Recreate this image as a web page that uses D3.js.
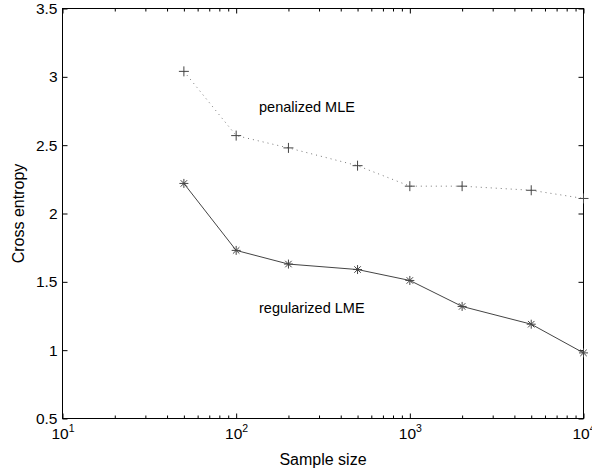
<!DOCTYPE html>
<html>
<head>
<meta charset="utf-8">
<script src="https://cdn.jsdelivr.net/npm/d3@7"></script>
<style>
  html, body { margin: 0; padding: 0; background: #fff; }
  svg { display: block; font-family: "Liberation Sans", Arial, Helvetica, sans-serif; }
</style>
</head>
<body>
<svg id="chart" width="592" height="472"></svg>
<script>
// ---- data ----
const sampleSizes = [50, 100, 200, 500, 1000, 2000, 5000, 10000];
const penalizedMLE = [3.04, 2.57, 2.48, 2.35, 2.20, 2.20, 2.17, 2.11];
const regularizedLME = [2.22, 1.73, 1.63, 1.59, 1.51, 1.32, 1.19, 0.98];
const yTicks = [0.5, 1, 1.5, 2, 2.5, 3, 3.5];
const xTicks = [10, 100, 1000, 10000];
const xTickExponents = ["1", "2", "3", "4"];
const seriesLabels = ["penalized MLE", "regularized LME"];
const xLabel = "Sample size";
const yLabel = "Cross entropy";

// ---- layout ----
const svg = d3.select("#chart");
const m = { left: 62.5, right: 583.5, top: 8.5, bottom: 418.5 };

const x = d3.scaleLog().domain([10, 10000]).range([m.left, m.right]);
const y = d3.scaleLinear().domain([0.5, 3.5]).range([m.bottom, m.top]);

const minorX = [];
for (let d = 10; d < 10000; d *= 10) for (let k = 2; k <= 9; k++) minorX.push(d * k);

const axisColor = "#000";

// box
svg.append("rect")
  .attr("x", m.left).attr("y", m.top)
  .attr("width", m.right - m.left).attr("height", m.bottom - m.top)
  .attr("fill", "none").attr("stroke", axisColor).attr("stroke-width", 1);

function styleAxis(g) {
  g.select(".domain").remove();
  g.selectAll(".tick line").attr("stroke", axisColor);
  g.selectAll(".tick text").attr("fill", "#000").attr("font-size", 15.5)
    .attr("font-family", "'Liberation Sans', Arial, sans-serif");
}

// bottom major
const gxb = svg.append("g").attr("transform", `translate(0,${m.bottom})`)
  .call(d3.axisBottom(x).tickValues(xTicks).tickSize(-5).tickPadding(6).tickFormat(() => ""));
styleAxis(gxb);
gxb.selectAll(".tick text").each(function(d, i) {
  const t = d3.select(this);
  t.text(null).attr("dy", null).attr("y", 20);
  t.append("tspan").text("10");
  t.append("tspan").text(xTickExponents[i]).attr("font-size", 10.5).attr("dy", -7);
});
// bottom minor
styleAxis(svg.append("g").attr("transform", `translate(0,${m.bottom})`)
  .call(d3.axisBottom(x).tickValues(minorX).tickSize(-3).tickFormat(() => "")));
// top major/minor
styleAxis(svg.append("g").attr("transform", `translate(0,${m.top})`)
  .call(d3.axisTop(x).tickValues(xTicks).tickSize(-5).tickFormat(() => "")));
styleAxis(svg.append("g").attr("transform", `translate(0,${m.top})`)
  .call(d3.axisTop(x).tickValues(minorX).tickSize(-3).tickFormat(() => "")));

// left
const gyl = svg.append("g").attr("transform", `translate(${m.left},0)`)
  .call(d3.axisLeft(y).tickValues(yTicks).tickSize(-5).tickPadding(5).tickFormat(d3.format("")));
styleAxis(gyl);
// right
styleAxis(svg.append("g").attr("transform", `translate(${m.right},0)`)
  .call(d3.axisRight(y).tickValues(yTicks).tickSize(-5).tickFormat(() => "")));

// axis labels
svg.append("text").attr("x", (m.left + m.right) / 2).attr("y", 465)
  .attr("text-anchor", "middle").attr("font-size", 16).text(xLabel);
svg.append("text").attr("transform", `translate(24,${(m.top + m.bottom) / 2}) rotate(-90)`)
  .attr("text-anchor", "middle").attr("font-size", 16).text(yLabel);

// lines
const line = d3.line().x((d, i) => x(sampleSizes[i])).y(d => y(d));

svg.append("path").datum(penalizedMLE).attr("d", line)
  .attr("fill", "none").attr("stroke", "#777").attr("stroke-width", 1)
  .attr("stroke-dasharray", "1,4");
svg.append("path").datum(regularizedLME).attr("d", line)
  .attr("fill", "none").attr("stroke", "#444").attr("stroke-width", 1);

// markers
const plusSym = { draw(ctx, size) { const r = Math.sqrt(size) / 2;
  ctx.moveTo(-r, 0); ctx.lineTo(r, 0); ctx.moveTo(0, -r); ctx.lineTo(0, r); } };
const starSym = { draw(ctx, size) { const r = Math.sqrt(size) / 2; const q = r * 0.72;
  ctx.moveTo(-r, 0); ctx.lineTo(r, 0); ctx.moveTo(0, -r); ctx.lineTo(0, r);
  ctx.moveTo(-q, -q); ctx.lineTo(q, q); ctx.moveTo(-q, q); ctx.lineTo(q, -q); } };

svg.append("g").selectAll("path").data(penalizedMLE).join("path")
  .attr("transform", (d, i) => `translate(${x(sampleSizes[i])},${y(d)})`)
  .attr("d", d3.symbol().type(plusSym).size(100))
  .attr("fill", "none").attr("stroke", "#444").attr("stroke-width", 1);
svg.append("g").selectAll("path").data(regularizedLME).join("path")
  .attr("transform", (d, i) => `translate(${x(sampleSizes[i])},${y(d)})`)
  .attr("d", d3.symbol().type(starSym).size(81))
  .attr("fill", "none").attr("stroke", "#444").attr("stroke-width", 1);

// annotations
svg.append("text").attr("x", 259).attr("y", 112).attr("font-size", 14.5).text(seriesLabels[0]);
svg.append("text").attr("x", 259).attr("y", 313).attr("font-size", 14.5).text(seriesLabels[1]);
</script>
</body>
</html>
